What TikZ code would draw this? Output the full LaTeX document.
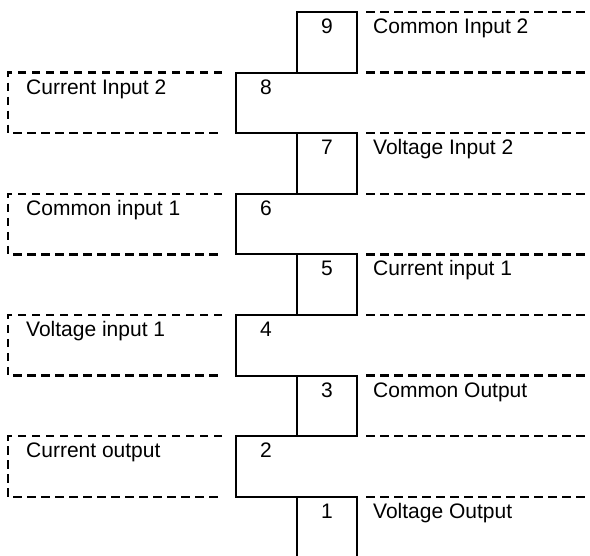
\documentclass[tikz,border=0pt]{standalone}
\usepackage{fontspec}
\setmainfont{Liberation Sans}
\begin{document}
\begin{tikzpicture}[x=1pt,y=-1pt,
  solidline/.style={line width=2pt},
  dashline/.style={line width=2.3pt, dash pattern=on 8.5pt off 5.5pt},
  lbl/.style={font=\fontsize{21}{25}\selectfont, inner sep=0pt, anchor=base west},
  num/.style={font=\fontsize{21}{25}\selectfont, inner sep=0pt, anchor=base}]
\useasboundingbox (0,0) rectangle (590,556);
\def\rh{60.6}
% odd rows: narrow cells with right dashed region
\foreach \k/\n/\txt in {0/9/Common Input 2, 2/7/Voltage Input 2, 4/5/Current input 1, 6/3/Common Output}{
  \pgfmathsetmacro{\t}{12+\rh*\k}
  \pgfmathsetmacro{\b}{12+\rh*(\k+1)}
  \draw[solidline] (297,\t) rectangle (357,\b);
  \draw[dashline] (366,\t) -- (590,\t);
  \draw[dashline] (366,\b) -- (590,\b);
  \node[num] (num\n) at (327,\t+21.5) {\n};
  \node[lbl] (lab\n) at (373,\t+21.5) {\txt};
}
% bottom row 1 (open at the bottom)
\pgfmathsetmacro{\t}{12+\rh*8}
\draw[solidline] (297,556) -- (297,\t) -- (357,\t) -- (357,556);
\draw[dashline] (366,\t) -- (590,\t);
\node[num] (num1) at (327,\t+21.5) {1};
\node[lbl] (lab1) at (373,\t+21.5) {Voltage Output};
% even rows: wide cells with left dashed region
\foreach \k/\n/\txt in {1/8/Current Input 2, 3/6/Common input 1, 5/4/Voltage input 1, 7/2/Current output}{
  \pgfmathsetmacro{\t}{12+\rh*\k}
  \pgfmathsetmacro{\b}{12+\rh*(\k+1)}
  \draw[solidline] (357,\t) -- (236,\t) -- (236,\b) -- (357,\b);
  \draw[dashline] (222,\t) -- (8,\t) -- (8,\b) -- (222,\b);
  \node[num] (num\n) at (266,\t+21.5) {\n};
  \node[lbl] (lab\n) at (26,\t+21.5) {\txt};
}
\end{tikzpicture}
\end{document}
